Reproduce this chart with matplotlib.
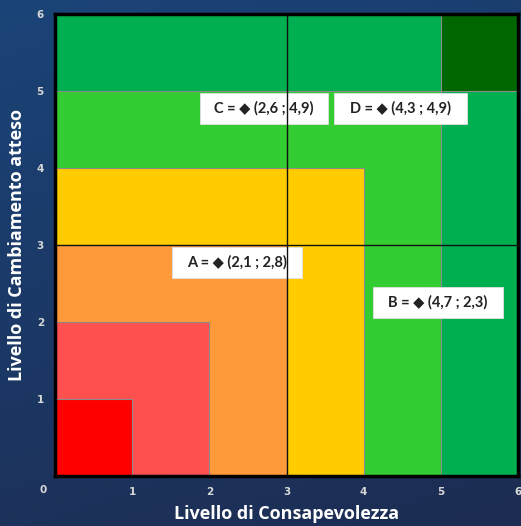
import numpy as np
import matplotlib
matplotlib.use("Agg")
import matplotlib.pyplot as plt
from matplotlib.patches import Rectangle

# ---- data ----
square_sizes = [6, 5, 4, 3, 2, 1]
square_colors = ["#00B050", "#33CC33", "#FFCC00", "#FF9A3A", "#FF5050", "#FF0000"]
corner_color = "#006600"
point_names = ["C", "D", "A", "B"]
point_x = ["2,6", "4,3", "2,1", "4,7"]
point_y = ["4,9", "4,9", "2,8", "2,3"]
tick_values = [1, 2, 3, 4, 5, 6]
x_label = "Livello di Consapevolezza"
y_label = "Livello di Cambiamento atteso"

# label boxes (layout): x0, x1, y0, y1 in axes data units
label_boxes = [(1.88, 3.54, 4.57, 4.97), (3.62, 5.34, 4.57, 4.97),
               (1.52, 3.20, 2.57, 2.97), (4.12, 5.80, 2.05, 2.45)]

fig = plt.figure(figsize=(5.21, 5.26), dpi=100)

# background gradient
bg = fig.add_axes([0, 0, 1, 1], zorder=-10)
yy, xx = np.mgrid[0:1:200j, 0:1:200j]
top = np.array([0x1a, 0x44, 0x78]) / 255
bot = np.array([0x1d, 0x2c, 0x52]) / 255
t = (yy * 0.75 + xx * 0.25)[..., None]
img = top * (1 - t) + bot * t
bg.imshow(img, aspect="auto", extent=[0, 1, 0, 1])
bg.axis("off")

ax = fig.add_axes([55 / 521, 50 / 526, 463 / 521, 462 / 526])
ax.set_xlim(0, 6)
ax.set_ylim(0, 6)

for s, c in zip(square_sizes, square_colors):
    ax.add_patch(Rectangle((0, 0), s, s, facecolor=c, edgecolor="#8a8a8a", lw=0.8, zorder=1))
ax.add_patch(Rectangle((5, 5), 1, 1, facecolor=corner_color, edgecolor="#8a8a8a", lw=0.8, zorder=1))

for (x0, x1, y0, y1), n, px, py in zip(label_boxes, point_names, point_x, point_y):
    ax.add_patch(Rectangle((x0, y0), x1 - x0, y1 - y0, facecolor="white",
                           edgecolor="#e0e0e0", lw=0.6, zorder=3))
    ax.text((x0 + x1) / 2, (y0 + y1) / 2, f"{n} = \u25C6 ({px} ; {py})", ha="center", va="center",
            fontsize=10.5, fontweight="bold", color="#222222",
            family=["Lato", "DejaVu Sans"], zorder=3.5)

ax.axvline(3, color="#111111", lw=1.0, zorder=4)
ax.axhline(3, color="#111111", lw=1.0, zorder=4)

for sp in ax.spines.values():
    sp.set_color("black")
    sp.set_linewidth(2.5)
    sp.set_zorder(5)

ax.set_xticks(tick_values)
ax.set_yticks(tick_values)
ax.set_xticklabels([str(v) for v in tick_values])
ax.set_yticklabels([str(v) for v in tick_values])
ax.tick_params(length=0, colors="#d8d8d8", labelsize=7.5, pad=8)
for lab in ax.get_xticklabels() + ax.get_yticklabels():
    lab.set_fontweight("bold")
    lab.set_family("DejaVu Sans")
ax.text(-12 / 77.2, -14 / 77, "0", ha="center", va="center", fontsize=7.5,
        fontweight="bold", color="#d8d8d8")

fig.text(287 / 521, 1 - 514 / 526, x_label, ha="center", va="center", color="white",
         fontsize=13, fontweight="bold", family="Open Sans")
fig.text(17 / 521, 1 - 245 / 526, y_label, ha="center", va="center", color="white",
         fontsize=13, fontweight="bold", family="Open Sans", rotation=90)

fig.savefig("out.png", dpi=100)
